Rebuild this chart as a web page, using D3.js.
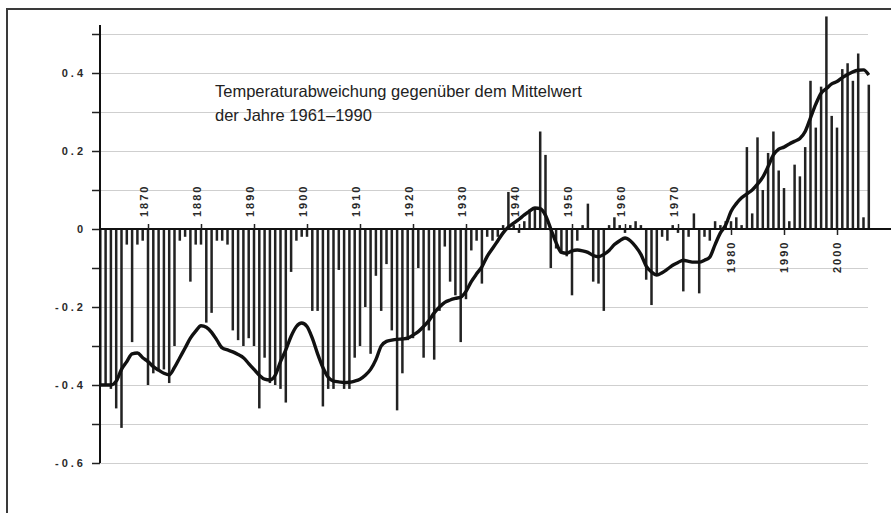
<!DOCTYPE html>
<html>
<head>
<meta charset="utf-8">
<script src="https://cdnjs.cloudflare.com/ajax/libs/d3/7.8.5/d3.min.js"></script>
<style>
body { margin: 0; background: #fff; }
text { font-family: "Liberation Sans", Arial, sans-serif; }
</style>
</head>
<body>
<svg id="chart" width="891" height="513"></svg>
<script>

var startYear = 1861;

// annual anomaly, 1861 .. 2006
var anomaly = [
    -0.40, -0.40, -0.41, -0.46, -0.51, -0.04, -0.29, -0.04, -0.03,
    -0.40, -0.37, -0.36, -0.36, -0.395, -0.30, -0.03, -0.02, -0.135, -0.04,
    -0.04, -0.24, -0.215, -0.03, -0.03, -0.04, -0.26, -0.285, -0.30, -0.28,
    -0.30, -0.46, -0.33, -0.395, -0.40, -0.41, -0.445, -0.11, -0.03, -0.02,
    -0.02, -0.21, -0.21, -0.455, -0.41, -0.41, -0.105, -0.41, -0.41, -0.33,
    -0.30, -0.20, -0.32, -0.12, -0.21, -0.09, -0.26, -0.465, -0.37, -0.285,
    -0.28, -0.10, -0.33, -0.26, -0.335, -0.21, -0.045, -0.135, -0.17, -0.29,
    -0.18, -0.055, -0.03, -0.14, -0.02, -0.03, -0.02, 0.01, 0.095, 0.01,
    -0.01, 0.02, 0.05, 0.055, 0.25, 0.19, -0.10, -0.05, -0.06, -0.07,
    -0.17, -0.03, 0.01, 0.065, -0.135, -0.14, -0.21, 0.01, 0.03, 0.01,
    -0.01, 0.01, 0.02, 0.01, -0.13, -0.195, -0.12, -0.02, -0.03, 0.01,
    -0.01, -0.16, -0.02, 0.04, -0.165, -0.02, -0.03, 0.02, 0.01, 0.02,
    0.02, 0.03, 0.01, 0.21, 0.04, 0.235, 0.10, 0.195, 0.25, 0.15,
    0.105, 0.02, 0.165, 0.135, 0.21, 0.38, 0.26, 0.365, 0.545, 0.29,
    0.26, 0.41, 0.425, 0.38, 0.45, 0.03, 0.37
];

// smoothed curve, same years
var smoothed = [
    -0.40, -0.40, -0.40, -0.39, -0.36, -0.34, -0.32, -0.318, -0.33,
    -0.34, -0.353, -0.362, -0.37, -0.374, -0.355, -0.33, -0.305, -0.28, -0.262,
    -0.248, -0.252, -0.265, -0.285, -0.305, -0.31, -0.315, -0.322, -0.33, -0.345,
    -0.36, -0.375, -0.385, -0.387, -0.375, -0.34, -0.31, -0.275, -0.25, -0.241,
    -0.25, -0.28, -0.32, -0.355, -0.38, -0.39, -0.392, -0.394, -0.393, -0.39,
    -0.385, -0.375, -0.36, -0.335, -0.30, -0.288, -0.285, -0.283, -0.282, -0.28,
    -0.272, -0.263, -0.25, -0.235, -0.215, -0.20, -0.188, -0.182, -0.178, -0.175,
    -0.16, -0.135, -0.115, -0.097, -0.07, -0.05, -0.03, -0.01, 0.005, 0.015,
    0.025, 0.036, 0.046, 0.054, 0.052, 0.035, 0.0, -0.035, -0.06, -0.062,
    -0.056, -0.054, -0.056, -0.06, -0.068, -0.071, -0.065, -0.055, -0.04, -0.03,
    -0.023, -0.03, -0.045, -0.065, -0.095, -0.11, -0.118, -0.112, -0.103, -0.093,
    -0.086, -0.08, -0.083, -0.085, -0.085, -0.08, -0.072, -0.04, -0.01, 0.01,
    0.045, 0.065, 0.08, 0.09, 0.10, 0.115, 0.133, 0.16, 0.19, 0.205,
    0.21, 0.218, 0.225, 0.232, 0.25, 0.285, 0.32, 0.348, 0.36, 0.372,
    0.378, 0.388, 0.396, 0.403, 0.407, 0.408, 0.395
];

var gridValues = [0.5, 0.4, 0.3, 0.2, 0.1, 0, -0.1, -0.2, -0.3, -0.4, -0.5, -0.6];
var yTickValues = [0.4, 0.2, 0, -0.2, -0.4, -0.6];
var yTickLabels = ["0.4", "0.2", "0", "-0.2", "-0.4", "-0.6"];
var decadesAbove = [1870, 1880, 1890, 1900, 1910, 1920, 1930, 1940, 1950, 1960, 1970];
var decadesBelow = [1980, 1990, 2000];
var titleLines = ["Temperaturabweichung gegenüber dem Mittelwert", "der Jahre 1961–1990"];

function chart()
{
    var svg = d3.select("#chart");

    var years = anomaly.map(function (d, i) { return startYear + i; });

    var x = d3.scaleLinear()
        .domain([1861, 2006])
        .range([100.3, 868.8]);

    var y = d3.scaleLinear()
        .domain([-0.6, 0.5])
        .range([463, 34]);

    // outer frame
    svg.append("rect")
        .attr("x", 7)
        .attr("y", 9)
        .attr("width", 900)
        .attr("height", 520)
        .attr("fill", "none")
        .attr("stroke", "#3a3a3a")
        .attr("stroke-width", 2);

    // grid
    var grid = svg.append("g")
        .attr("transform", "translate(100,0)")
        .call(d3.axisLeft(y).tickValues(gridValues).tickSize(-768).tickFormat(""));
    grid.select(".domain").remove();
    grid.selectAll("line").attr("stroke", "#cfcfcf").attr("stroke-width", 1);

    // bars
    svg.append("g")
        .selectAll("rect")
        .data(years)
        .enter()
        .append("rect")
        .attr("x", function (d) { return x(d) - 1.25; })
        .attr("width", 2.5)
        .attr("y", function (d, i) { return Math.min(y(anomaly[i]), y(0)); })
        .attr("height", function (d, i) { return Math.abs(y(anomaly[i]) - y(0)); })
        .attr("fill", "#222");

    // y axis
    var yAxis = svg.append("g")
        .attr("transform", "translate(100,0)")
        .call(d3.axisLeft(y)
            .tickValues(gridValues)
            .tickSize(8)
            .tickPadding(6)
            .tickFormat(function (d) {
                var k = yTickValues.indexOf(d);
                return k < 0 ? "" : yTickLabels[k];
            }));
    yAxis.select(".domain").remove();
    yAxis.selectAll("line").attr("stroke", "#222").attr("stroke-width", 1.5);
    yAxis.selectAll("text")
        .attr("fill", "#2a2a2a")
        .style("font-size", "11px")
        .style("font-weight", "bold")
        .style("letter-spacing", "3px");

    svg.append("line")
        .attr("x1", 100).attr("x2", 100)
        .attr("y1", 25).attr("y2", y(-0.6))
        .attr("stroke", "#111")
        .attr("stroke-width", 2);

    // zero line + decade ticks
    svg.append("line")
        .attr("x1", 100).attr("x2", 891)
        .attr("y1", y(0)).attr("y2", y(0))
        .attr("stroke", "#111")
        .attr("stroke-width", 2);

    var up = svg.append("g")
        .attr("transform", "translate(0," + y(0) + ")")
        .call(d3.axisTop(x).tickValues(decadesAbove).tickSize(5).tickFormat(""));
    up.select(".domain").remove();
    up.selectAll("line").attr("stroke", "#222").attr("stroke-width", 1.5);

    var down = svg.append("g")
        .attr("transform", "translate(0," + y(0) + ")")
        .call(d3.axisBottom(x).tickValues(decadesBelow).tickSize(6).tickFormat(""));
    down.select(".domain").remove();
    down.selectAll("line").attr("stroke", "#222").attr("stroke-width", 1.5);

    // smoothed line
    var line = d3.line()
        .x(function (d) { return x(d); })
        .y(function (d, i) { return y(smoothed[i]); })
        .curve(d3.curveMonotoneX);

    svg.append("path")
        .datum(years)
        .attr("d", line)
        .attr("fill", "none")
        .attr("stroke", "#111")
        .attr("stroke-width", 3.4)
        .attr("stroke-linejoin", "round");

    // decade labels, rotated
    svg.selectAll("text.above")
        .data(decadesAbove)
        .enter()
        .append("text")
        .attr("class", "above")
        .attr("transform", function (d) { return "translate(" + x(d) + ",217) rotate(-90)"; })
        .attr("fill", "#2a2a2a")
        .style("font-size", "11px")
        .style("font-weight", "bold")
        .style("letter-spacing", "2px")
        .text(function (d) { return d; });

    svg.selectAll("text.below")
        .data(decadesBelow)
        .enter()
        .append("text")
        .attr("class", "below")
        .attr("transform", function (d) { return "translate(" + (x(d) + 4) + ",273) rotate(-90)"; })
        .attr("fill", "#2a2a2a")
        .style("font-size", "11px")
        .style("font-weight", "bold")
        .style("letter-spacing", "2px")
        .text(function (d) { return d; });

    // title
    svg.selectAll("text.title")
        .data(titleLines)
        .enter()
        .append("text")
        .attr("class", "title")
        .attr("x", 215)
        .attr("y", function (d, i) { return 97 + i * 24; })
        .attr("fill", "#222")
        .style("font-size", "16.5px")
        .text(function (d) { return d; });
}

chart();
</script>
</body>
</html>
